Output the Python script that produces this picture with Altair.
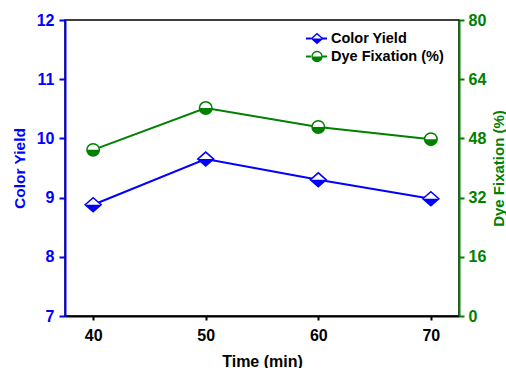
import altair as alt
import pandas as pd

# ---- data ----
time_min = [40, 50, 60, 70]
color_yield = [8.88, 9.65, 9.30, 8.98]
dye_fixation = [44.9, 56.2, 51.1, 47.8]
series_names = ["Color Yield", "Dye Fixation (%)"]
x_ticks = [40, 50, 60, 70]
left_ticks = [7, 8, 9, 10, 11, 12]
right_ticks = [0, 16, 32, 48, 64, 80]

df = pd.DataFrame({"time": time_min, "cy": color_yield, "dfix": dye_fixation})

BLUE = "#0000FF"
GREEN = "#008000"
FONT = "Liberation Sans"

DIAMOND = "M-1,0L0,-0.875L1,0L0,0.875Z"
HALF_DIAMOND = "M-1,0L1,0L0,0.875Z"
HALF_CIRCLE = "M-1,0A1,1,0,0,0,1,0Z"

x_enc = alt.X(
    "time:Q",
    scale=alt.Scale(domain=[37.5, 72.5], nice=False, zero=False),
    axis=alt.Axis(
        values=x_ticks, format="d", title="Time (min)", grid=False,
        domainColor="black", domainWidth=2, tickColor="black", tickWidth=2, tickSize=4,
        labelPadding=7, labelFont=FONT, labelFontSize=16, labelFontWeight="bold",
        labelColor="black", titleFont=FONT, titleFontSize=16, titleFontWeight="bold",
        titleColor="black", titlePadding=10,
    ),
)

left_axis = alt.Axis(
    orient="left", values=left_ticks, format="d", title="Color Yield", grid=False,
    domainColor=BLUE, domainWidth=2, tickColor=BLUE, tickWidth=2, tickSize=6,
    labelPadding=5, labelFont=FONT, labelFontSize=16, labelFontWeight="bold",
    labelColor=BLUE, titleFont=FONT, titleFontSize=15.5, titleFontWeight="bold",
    titleColor=BLUE, titlePadding=9,
)
right_axis = alt.Axis(
    orient="right", values=right_ticks, format="d", title="Dye Fixation (%)", grid=False,
    domainColor=GREEN, domainWidth=2, tickColor=GREEN, tickWidth=2, tickSize=5,
    labelPadding=4, labelFont=FONT, labelFontSize=16, labelFontWeight="bold",
    labelColor=GREEN, titleFont=FONT, titleFontSize=15, titleFontWeight="bold",
    titleColor=GREEN, titlePadding=6, titleAngle=270, titleBaseline="top",
)

base = alt.Chart(df).encode(x=x_enc)

y_left = alt.Y("cy:Q", scale=alt.Scale(domain=[7, 12], nice=False, zero=False), axis=left_axis)
left = alt.layer(
    base.mark_line(color=BLUE, strokeWidth=2).encode(y=y_left),
    base.mark_point(shape=DIAMOND, filled=True, fill="white", stroke=BLUE,
                    strokeWidth=1.5, size=256, opacity=1).encode(y="cy:Q"),
    base.mark_point(shape=HALF_DIAMOND, filled=True, color=BLUE, size=256,
                    opacity=1).encode(y="cy:Q"),
)

y_right = alt.Y("dfix:Q", scale=alt.Scale(domain=[0, 80], nice=False), axis=right_axis)
right = alt.layer(
    base.mark_line(color=GREEN, strokeWidth=2).encode(y=y_right),
    base.mark_point(shape="circle", filled=True, fill="white", stroke=GREEN,
                    strokeWidth=1.5, size=156, opacity=1).encode(y="dfix:Q"),
    base.mark_point(shape=HALF_CIRCLE, filled=True, color=GREEN, size=156,
                    opacity=1).encode(y="dfix:Q"),
)

# ---- manual legend ----
def legend_entry(label, color, outline, half, size, ypos):
    one = alt.Chart(pd.DataFrame({"t": [label]}))
    rule = one.mark_rule(color=color, strokeWidth=2, strokeDash=[5, 11]).encode(
        x=alt.value(241), x2=alt.value(263), y=alt.value(ypos))
    sym_o = one.mark_point(shape=outline, filled=True, fill="white", stroke=color,
                           strokeWidth=1.3, size=size, opacity=1).encode(
        x=alt.value(252), y=alt.value(ypos))
    sym_h = one.mark_point(shape=half, filled=True, color=color, size=size,
                           opacity=1).encode(x=alt.value(252), y=alt.value(ypos))
    txt = one.mark_text(align="left", baseline="middle", font=FONT, fontSize=14.5,
                        fontWeight="bold", color="black").encode(
        text="t:N", x=alt.value(266), y=alt.value(ypos))
    return [rule, sym_o, sym_h, txt]

leg = legend_entry(series_names[0], BLUE, DIAMOND, HALF_DIAMOND, 121, 18.5) + \
      legend_entry(series_names[1], GREEN, "circle", HALF_CIRCLE, 100, 36.5)

chart = (
    alt.layer(left, right, *leg)
    .resolve_scale(y="independent")
    .properties(
        width=394, height=296,
        autosize=alt.AutoSizeParams(type="none"),
        padding={"left": 65, "top": 20, "right": 47, "bottom": 52},
        background="white",
    )
    .configure_view(stroke="black", strokeWidth=1.5)
)

chart.save("out.html", embed_options={"renderer": "svg", "actions": False})
